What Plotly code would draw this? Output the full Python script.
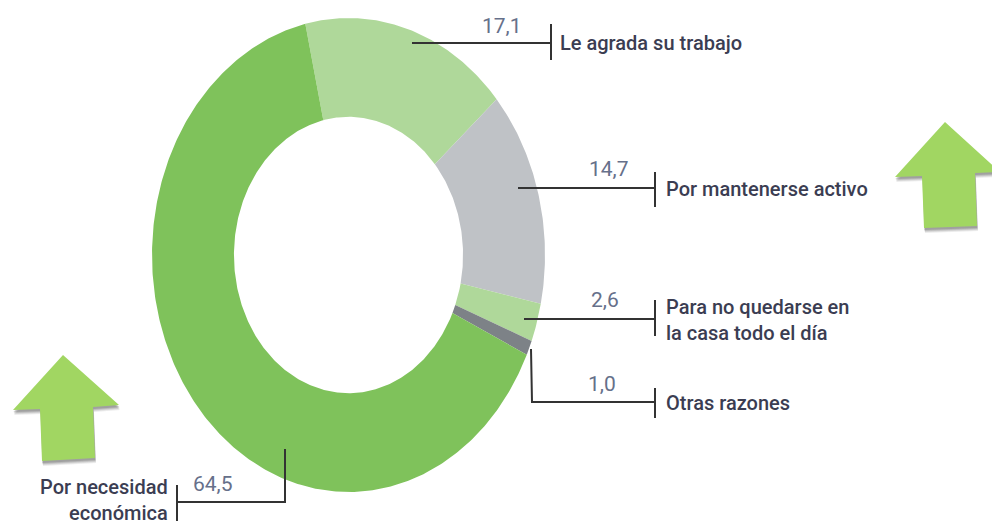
import math
import plotly.graph_objects as go

W, H = 992, 524

categories = ["Le agrada su trabajo", "Por mantenerse activo", "Para no quedarse en la casa todo el día",
              "Otras razones", "Por necesidad económica"]
values = [17.1, 14.7, 2.6, 1.0, 64.5]
value_labels = ["17,1", "14,7", "2,6", "1,0", "64,5"]
colors = ["#afd89a", "#bfc2c6", "#afd89a", "#7d8287", "#7fc25b"]

START_DEG = -12.7
HOLE = 0.583
ARROW = "#a1d662"
LINE = "#333333"
TXT = "#3b3d52"
NUM = "#66708a"
FONT = "Roboto"


def px(x):
    return x / W


def py(y):
    return 1 - y / H


fig = go.Figure()
total = sum(values)
a = START_DEG
for name, v, c in zip(categories, values, colors):
    b = a + 360 * v / total
    n = max(4, int((b - a) * 1.5))
    ang = [math.radians(a + (b - a) * i / n) for i in range(n + 1)]
    xs = [math.sin(t) for t in ang] + [HOLE * math.sin(t) for t in reversed(ang)]
    ys = [math.cos(t) for t in ang] + [HOLE * math.cos(t) for t in reversed(ang)]
    fig.add_trace(go.Scatter(x=xs + xs[:1], y=ys + ys[:1], mode="lines", fill="toself",
                             fillcolor=c, line=dict(width=0, color=c), name=name,
                             hoverinfo="text", hoveron="fills", text=f"{name}: {v}"))
    a = b

shapes = []


def polyline(points, color=LINE, width=2):
    d = "M" + " L".join(f"{px(x):.5f},{py(y):.5f}" for x, y in points)
    shapes.append(dict(type="path", xref="paper", yref="paper", path=d,
                       line=dict(color=color, width=width)))


def polygon(points, color):
    d = "M" + " L".join(f"{px(x):.5f},{py(y):.5f}" for x, y in points) + " Z"
    shapes.append(dict(type="path", xref="paper", yref="paper", path=d,
                       fillcolor=color, line=dict(width=0)))


arrow_r = [(945, 122), (895, 177), (922, 176), (924, 228), (977, 226), (975, 173), (1000, 172)]
arrow_l = [(63, 355), (13, 410), (40, 409), (42, 461), (95, 458), (93, 407), (119, 405)]
for arrow in (arrow_r, arrow_l):
    for off, alpha in ((5, 0.10), (4, 0.14), (3, 0.18), (2, 0.22)):
        polygon([(x + off * 0.2, y + off) for x, y in arrow], f"rgba(70,70,70,{alpha})")
    polygon(arrow, ARROW)

# leader lines
polyline([(412, 43), (551, 43)])
polyline([(551, 24), (551, 60)])
polyline([(518, 188), (655, 188)])
polyline([(655, 172), (655, 207)])
polyline([(524, 319), (655, 319)])
polyline([(655, 300), (655, 336)])
polyline([(531, 349), (532, 402), (655, 402)])
polyline([(655, 388), (655, 418)])
polyline([(285, 449), (285, 502), (177, 502)])
polyline([(177, 485), (177, 521)])

annotations = []


def label(x, y, text, anchor="left", color=TXT, size=20, weight=500):
    annotations.append(dict(xref="paper", yref="paper", x=px(x), y=py(y), text=text, showarrow=False,
                            xanchor=anchor, yanchor="middle", align=anchor, borderpad=0, borderwidth=0,
                            font=dict(family=FONT, size=size, color=color, weight=weight)))


label(502, 26, value_labels[0], "center", NUM, 21, 400)
label(609, 169, value_labels[1], "center", NUM, 21, 400)
label(605, 300, value_labels[2], "center", NUM, 21, 400)
label(602, 384, value_labels[3], "center", NUM, 21, 400)
label(213, 484, value_labels[4], "center", NUM, 21, 400)

label(560, 43, "Le agrada su trabajo")
label(666, 189, "Por mantenerse activo")
label(666, 320, "Para no quedarse en<br>la casa todo el día")
label(666, 403, "Otras razones")
label(168, 500, "Por necesidad<br>económica", "right")

fig.update_layout(
    width=W, height=H, margin=dict(l=0, r=0, t=0, b=0), showlegend=False,
    paper_bgcolor="white", plot_bgcolor="white", shapes=shapes, annotations=annotations,
    xaxis=dict(domain=[px(152), px(545)], range=[-1, 1], visible=False, fixedrange=True),
    yaxis=dict(domain=[py(492), py(18)], range=[-1, 1], visible=False, fixedrange=True),
)
fig.write_html("out.html", config=dict(displayModeBar=False),
               post_script="document.body.style.margin='0';document.documentElement.style.overflow='hidden';")
